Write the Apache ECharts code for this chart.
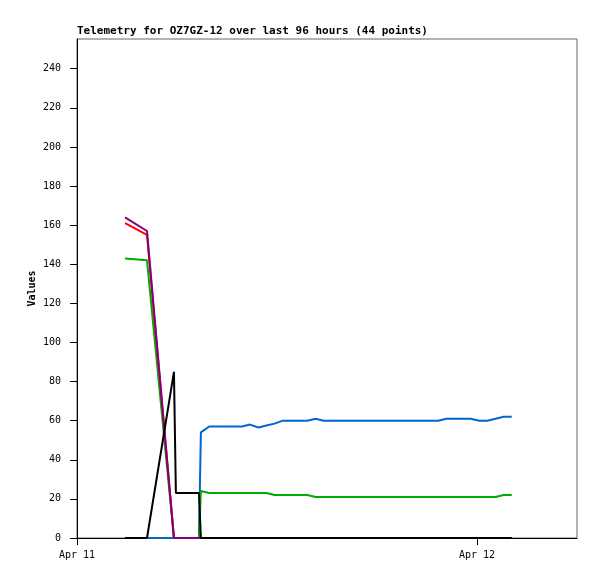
<!DOCTYPE html>
<html>
<head>
<meta charset="utf-8">
<script src="https://cdn.jsdelivr.net/npm/echarts@6/dist/echarts.min.js"></script>
<style>
html,body{margin:0;padding:0;background:#fff;}
#chart{width:597px;height:579px;}
</style>
</head>
<body>
<div id="chart"></div>
<script>
// Sample times (month-day hour:minute)
const times = [
  '04-11 02:53','04-11 04:12','04-11 05:49','04-11 05:56','04-11 07:19','04-11 07:26',
  '04-11 07:56','04-11 08:25','04-11 08:55','04-11 09:24','04-11 09:54','04-11 10:23',
  '04-11 10:53','04-11 11:22','04-11 11:51','04-11 12:21','04-11 12:50','04-11 13:20',
  '04-11 13:49','04-11 14:19','04-11 14:48','04-11 15:18','04-11 15:47','04-11 16:16',
  '04-11 16:46','04-11 17:15','04-11 17:45','04-11 18:14','04-11 18:44','04-11 19:13',
  '04-11 19:43','04-11 20:12','04-11 20:42','04-11 21:11','04-11 21:40','04-11 22:10',
  '04-11 22:39','04-11 23:09','04-11 23:38','04-12 00:08','04-12 00:37','04-12 01:07',
  '04-12 01:36','04-12 02:05'
];
const blueValues = [
  0,0,0,0,0,54,
  57,57,57,57,57,58,
  56.5,57.5,58.5,60,60,60,
  60,61,60,60,60,60,
  60,60,60,60,60,60,
  60,60,60,60,60,61,
  61,61,61,60,60,61,
  62,62
];
const greenValues = [
  143,142,0,0,0,24,
  23,23,23,23,23,23,
  23,23,22,22,22,22,
  22,21,21,21,21,21,
  21,21,21,21,21,21,
  21,21,21,21,21,21,
  21,21,21,21,21,21,
  22,22
];
const redValues = [
  161,155,0,0,0,0,
  0,0,0,0,0,0,0,0,0,0,0,0,0,0,0,0,0,0,0,0,0,0,0,0,0,0,0,0,0,0,0,0,0,0,0,0,0,0
];
const purpleValues = [
  164,157,0,0,0,0,
  0,0,0,0,0,0,0,0,0,0,0,0,0,0,0,0,0,0,0,0,0,0,0,0,0,0,0,0,0,0,0,0,0,0,0,0,0,0
];
const blackValues = [
  0,0,85,23,23,0,
  0,0,0,0,0,0,0,0,0,0,0,0,0,0,0,0,0,0,0,0,0,0,0,0,0,0,0,0,0,0,0,0,0,0,0,0,0,0
];
const xTickHours = [0, 24];
const xTickLabels = ['Apr 11', 'Apr 12'];
const yTicks = [0,20,40,60,80,100,120,140,160,180,200,220,240];

function toHours(s) {
  const m = s.match(/(\d+)-(\d+) (\d+):(\d+)/);
  return (parseInt(m[2],10) - 11) * 24 + parseInt(m[3],10) + parseInt(m[4],10) / 60;
}
const hours = times.map(toHours);
function pairs(vals) { return vals.map((v, i) => [hours[i], v]); }

const mono = 'DejaVu Sans Mono';
const chart = echarts.init(document.getElementById('chart'), null, {renderer: 'canvas'});
const lineSeries = (name, vals, color) => ({
  name, type: 'line', data: pairs(vals), showSymbol: false, symbol: 'none',
  lineStyle: {color, width: 2}, itemStyle: {color}, animation: false
});
chart.setOption({
  animation: false,
  backgroundColor: '#fff',
  title: {
    text: 'Telemetry for OZ7GZ-12 over last 96 hours (44 points)',
    left: 72, top: 21,
    textStyle: {fontFamily: mono, fontWeight: 'bold', fontSize: 11, color: '#000'}
  },
  grid: {left: 77, right: 20, top: 39, bottom: 41, show: true, borderColor: '#666', borderWidth: 1, backgroundColor: 'transparent'},
  xAxis: {
    type: 'value', min: 0, max: 30,
    axisLine: {show: true, onZero: false, lineStyle: {color: '#000', width: 1}},
    axisTick: {show: true, length: 7, customValues: xTickHours, lineStyle: {color: '#000'}},
    axisLabel: {
      customValues: xTickHours, margin: 12,
      fontFamily: mono, fontSize: 10, color: '#000',
      formatter: v => { const i = xTickHours.indexOf(v); return i >= 0 ? xTickLabels[i] : ''; }
    },
    splitLine: {show: false}
  },
  yAxis: {
    type: 'value', min: 0, max: 255.2,
    name: 'Values', nameLocation: 'middle', nameGap: 40, nameMoveOverlap: false,
    nameTextStyle: {fontFamily: mono, fontWeight: 'bold', fontSize: 10, color: '#000'},
    axisLine: {show: true, onZero: false, lineStyle: {color: '#000', width: 1}},
    axisTick: {show: true, length: 7, customValues: yTicks, lineStyle: {color: '#000'}},
    axisLabel: {customValues: yTicks, margin: 16, fontFamily: mono, fontSize: 10, color: '#000'},
    splitLine: {show: false}
  },
  series: [
    lineSeries('Blue', blueValues, '#0066cc'),
    lineSeries('Green', greenValues, '#00aa00'),
    lineSeries('Red', redValues, '#ff0000'),
    lineSeries('Purple', purpleValues, '#800080'),
    lineSeries('Black', blackValues, '#000000')
  ]
});
</script>
</body>
</html>
